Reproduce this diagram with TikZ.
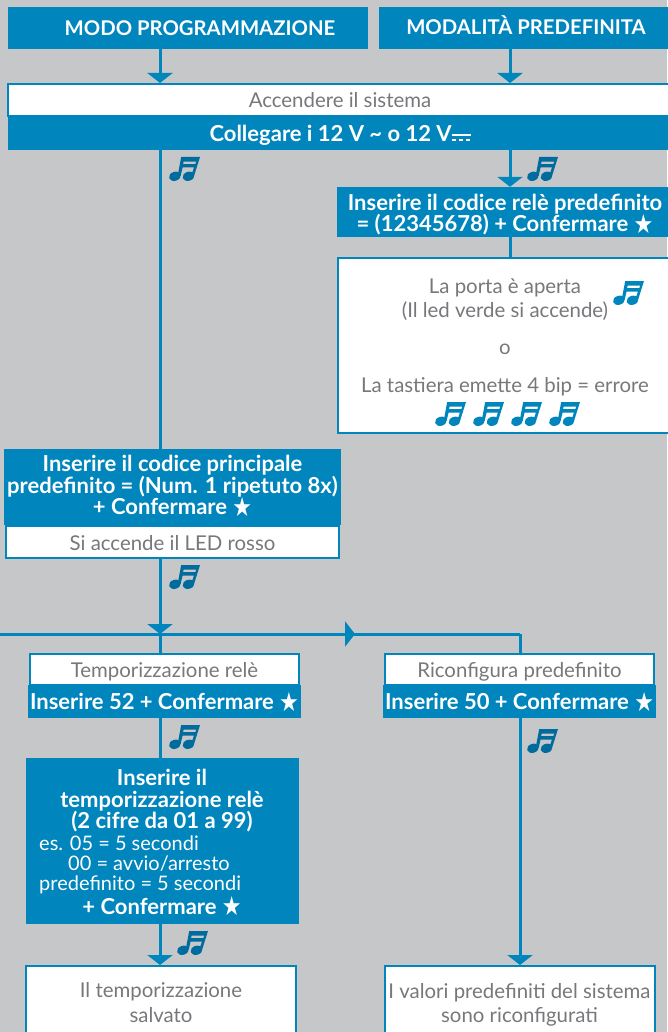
\documentclass[tikz,border=0pt]{standalone}
\usepackage{fontspec}
\setmainfont{Lato}
\newfontfamily\simboli{DejaVu Sans}
\usetikzlibrary{arrows.meta,backgrounds}
\definecolor{sfondo}{HTML}{C6C7C9}
\definecolor{blu}{HTML}{0085BD}
\definecolor{blunota}{HTML}{006C9E}
\definecolor{grigio}{HTML}{77787B}
\newcommand{\stella}{{\simboli\fontsize{22}{20}\selectfont\raisebox{-1.5pt}[0pt][0pt]{\scalebox{1}[1.2]{★}}}}
\newcommand{\continua}{\rlap{\rule[5pt]{19pt}{2pt}}\rule[0pt]{4.5pt}{2pt}\hspace{2.7pt}\rule[0pt]{4.5pt}{2pt}\hspace{2.7pt}\rule[0pt]{4.5pt}{2pt}}
\newcommand{\giu}[1]{\raisebox{0pt}[16.5pt][0pt]{#1}}
\tikzset{
  bluebox/.style={fill=blu,text=white,inner sep=0pt,align=center,font=\fontsize{22}{21.5}\selectfont\bfseries},
  headbox/.style={bluebox,font=\fontsize{20.3}{22}\selectfont\bfseries},
  whitebox/.style={fill=white,draw=blu,line width=2pt,text=grigio,inner sep=0pt,align=center,font=\fontsize{20.4}{24.5}\selectfont},
  testochiaro/.style={text=white,inner sep=0pt,anchor=west,font=\fontsize{20}{21}\selectfont},
  testogrigio/.style={text=grigio,inner sep=0pt,font=\fontsize{20.4}{24}\selectfont},
  linea/.style={draw=blu,line width=3pt},
  freccia/.style={linea,-{Triangle[width=25pt,length=10pt]}},
  nota/.pic={
    \fill (5.9,19.3) ellipse [x radius=6pt,y radius=4.5pt,rotate=18];
    \fill (19.5,19.3) ellipse [x radius=6pt,y radius=4.5pt,rotate=18];
    \fill[even odd rule] (8.6,19) -- (12.2,0) -- (31,0) -- (25,19) -- (22,19) -- (25,10.5) -- (13.6,10.5) -- (11.6,19) -- cycle
      (14.6,4.7) -- (14.1,7.2) -- (26.3,7.2) -- (27.1,4.7) -- cycle;
  }
}
\begin{document}
\begin{tikzpicture}[x=1pt,y=-1pt]
\useasboundingbox (0,0) rectangle (667,1032);
\coordinate (assesx) at (160,0);
\coordinate (assedx) at (510,0);
\coordinate (assefine) at (520,0);

\node[headbox,minimum width=360,minimum height=42] (modoprog) at (188,28) {\hspace*{24pt}MODO PROGRAMMAZIONE};
\node[headbox,minimum width=294,minimum height=42] (modopred) at (526,28) {MODALITÀ PREDEFINITA\rule[-6pt]{0pt}{0pt}};
\node[whitebox,minimum width=675,minimum height=32] (accendere) at (345,100) {\hspace*{-10pt}Accendere il sistema};
\node[bluebox,minimum width=667,minimum height=34] (collegare) at (341,133) {\hspace*{-2pt}\giu{Collegare i 12 V \textasciitilde{} o 12 V\continua}};
\node[bluebox,minimum width=336,minimum height=50] (codicerele) at (505,212) {\rule{0pt}{21pt}Inserire il codice relè predefinito\\= (12345678) + Confermare \stella};
\node[whitebox,minimum width=340,minimum height=175] (esito) at (508,345.5) {};
\node[testogrigio,align=center] (porta) at (505,300) {La porta è aperta\\(Il led verde si accende)};
\node[testogrigio] (oppure) at (505,349) {o};
\node[testogrigio] (errore) at (505,387) {La tastiera emette 4 bip = errore};
\node[bluebox,minimum width=337,minimum height=76] (codiceprinc) at (172.5,487) {Inserire il codice principale\\predefinito = (Num. 1 ripetuto 8x)\\+ Confermare \stella\rule[-4pt]{0pt}{0pt}};
\node[whitebox,minimum width=333,minimum height=32] (ledrosso) at (172.5,542) {\giu{Si accende il LED rosso}};
\node[whitebox,minimum width=269,minimum height=31] (tempo) at (164.5,669.5) {\giu{Temporizzazione relè}};
\node[bluebox,minimum width=273,minimum height=33] (inserire52) at (164.5,701.5) {Inserire 52 + Confermare \stella};
\node[whitebox,minimum width=269,minimum height=31] (riconf) at (519.5,669.5) {\giu{Riconfigura predefinito}};
\node[bluebox,minimum width=273,minimum height=33] (inserire50) at (519.5,701.5) {Inserire 50 + Confermare \stella};
\node[bluebox,minimum width=273,minimum height=166] (tempobox) at (162.5,841) {};
\node[bluebox] (tempotitolo) at (162,801) {Inserire il\\temporizzazione relè\\(2 cifre da 01 a 99)};
\node[testochiaro] (tempoes) at (39,843) {es. 05 = 5 secondi};
\node[testochiaro] (tempoavvio) at (68,864) {00 = avvio/arresto};
\node[testochiaro] (tempopred) at (39,885) {predefinito = 5 secondi};
\node[bluebox] (tempoconf) at (162,906) {+ Confermare \stella};
\node[whitebox,minimum width=270,minimum height=73] (salvato) at (161,1002.5) {Il temporizzazione\\salvato};
\node[whitebox,minimum width=270,minimum height=73] (valori) at (519.5,1002.5) {\rule{0pt}{20pt}I valori predefiniti del sistema\\sono riconfigurati};

\coordinate (incrocio) at (160,634);
\coordinate (bordo) at (0,634);
\coordinate (punta) at (355,634);
\coordinate (angolo) at (520,634);

\begin{scope}[on background layer]
\fill[sfondo] (0,0) rectangle (667,1032);
\draw[freccia] (assesx |- modoprog.south) -- (assesx |- accendere.north);
\draw[freccia] (assedx |- modopred.south) -- (assedx |- accendere.north);
\draw[linea] (assesx |- collegare.south) -- (assesx |- codiceprinc.north);
\draw[freccia] (assedx |- collegare.south) -- (assedx |- codicerele.north);
\draw[linea] (assedx |- codicerele.south) -- (assedx |- esito.north);
\draw[freccia] (assesx |- ledrosso.south) -- (incrocio);
\draw[linea] (bordo) -- (punta);
\draw[linea] (incrocio) -- (assesx |- tempo.north);
\draw[freccia] (incrocio) -- (punta);
\draw[linea] (punta) -- (angolo);
\draw[freccia] (angolo) -- (assefine |- valori.north);
\draw[linea] (assesx |- inserire52.south) -- (assesx |- tempobox.north);
\draw[freccia] (assesx |- tempobox.south) -- (assesx |- salvato.north);
\end{scope}

\pic[color=blunota] at (169,157) {nota};
\pic[color=blunota] at (527,157) {nota};
\pic[color=blu] at (613,281) {nota};
\pic[color=blu] at (435,402) {nota};
\pic[color=blu] at (473,402) {nota};
\pic[color=blu] at (511,402) {nota};
\pic[color=blu] at (549,402) {nota};
\pic[color=blunota] at (169,565) {nota};
\pic[color=blunota] at (169,725) {nota};
\pic[color=blunota] at (527,729) {nota};
\pic[color=blunota] at (177,931) {nota};
\end{tikzpicture}
\end{document}
